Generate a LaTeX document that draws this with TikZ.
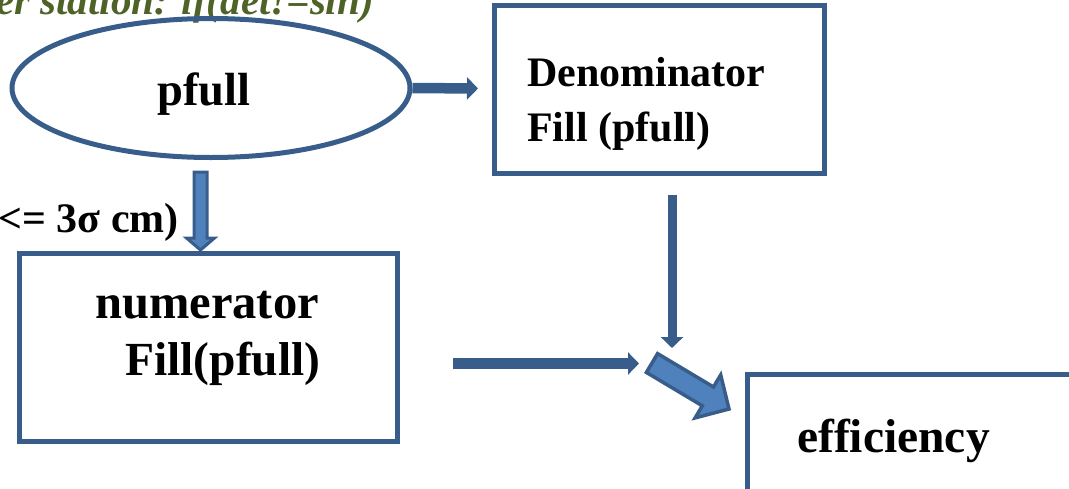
\documentclass[tikz,border=0pt]{standalone}
\usepackage{fontspec}
\setmainfont{Liberation Serif}
\usetikzlibrary{arrows.meta,shapes.geometric,calc}
\definecolor{edge}{HTML}{385D8A}
\definecolor{accent}{HTML}{4F81BD}
\definecolor{olive}{HTML}{4F6228}
\tikzset{
  box/.style={draw=edge, line width=5pt, rectangle, outer sep=0pt, inner sep=0pt},
  label/.style={font=\fontsize{47.5}{52}\selectfont\bfseries, inner sep=0pt, anchor=base west},
  flow/.style={draw=edge, line width=10.5pt, -{Triangle[length=11pt,width=22pt]}},
}
\begin{document}
\begin{tikzpicture}[x=1pt,y=-1pt]
\useasboundingbox (0,0) rectangle (1069,488);
\clip (0,0) rectangle (1069,488);

% condition caption along the top edge
\node[font=\fontsize{41}{46}\selectfont\bfseries\itshape, text=olive, inner sep=0pt, anchor=base east]
  (cond) at (374,14) {der station: if(det!=sin)};

% shapes
\node[draw=edge, line width=5pt, ellipse, outer sep=0pt, inner sep=0pt,
      minimum width=398pt, minimum height=139pt] (pfull) at (211,88) {};
\node[box, minimum width=330pt, minimum height=168pt] (den) at (659,89.5) {};
\node[box, minimum width=378pt, minimum height=188pt] (num) at (208,347) {};
\node[box, minimum width=400pt, minimum height=200pt, anchor=north west] (eff) at (747,374) {};

% texts
\node[label, font=\fontsize{46.5}{52}\selectfont\bfseries] (tp) at (157,105) {pfull};
\node[label, font=\fontsize{42}{48}\selectfont\bfseries] (td1) at (527,86) {Denominator};
\node[label, font=\fontsize{42}{48}\selectfont\bfseries] (td2) at (527,141) {Fill (pfull)};
\node[label, font=\fontsize{48.5}{52}\selectfont\bfseries] (tn1) at (95,318) {numerator};
\node[label] (tn2) at (125,375) {Fill(pfull)};
\node[label] (te) at (797,452) {efficiency};
\node[font=\fontsize{42}{48}\selectfont\bfseries, inner sep=0pt, anchor=base east] (cut) at (179,232) {<= 3σ cm)};

% connector end points
\coordinate (a1s) at (pfull.east);
\coordinate (a1e) at (478,88.5);
\coordinate (a2s) at (672,195);
\coordinate (a2e) at (672,348);
\coordinate (a3s) at (453,363.5);
\coordinate (a3e) at (639,363.5);
\coordinate (a4s) at (200.5,172);
\coordinate (a4e) at (200.5,250);

% connectors
\draw[flow] ([xshift=2.5pt]a1s) -- (a1e);
\draw[flow, line width=9pt] (a2s) -- (a2e);
\draw[flow] (a3s) -- (a3e);

% block arrow from pfull down to the numerator box
\draw[draw=edge, fill=accent, line width=3pt, line join=miter]
  ($(a4s)+(-6.5,0)$) -- ($(a4s)+(6.5,0)$) -- ($(a4e)+(6.5,-12)$) -- ($(a4e)+(14,-12)$)
  -- (a4e) -- ($(a4e)+(-14,-12)$) -- ($(a4e)+(-6.5,-12)$) -- cycle;

% wide block arrow into the efficiency box
\draw[draw=edge, fill=accent, line width=3.5pt, line join=miter]
  (646.4,372.4) -- (657.6,353.6) -- (713.5,387.0) -- (720.7,374.9)
  -- (729,409) -- (695.1,417.9) -- (702.3,405.8) -- cycle;
\end{tikzpicture}
\end{document}
